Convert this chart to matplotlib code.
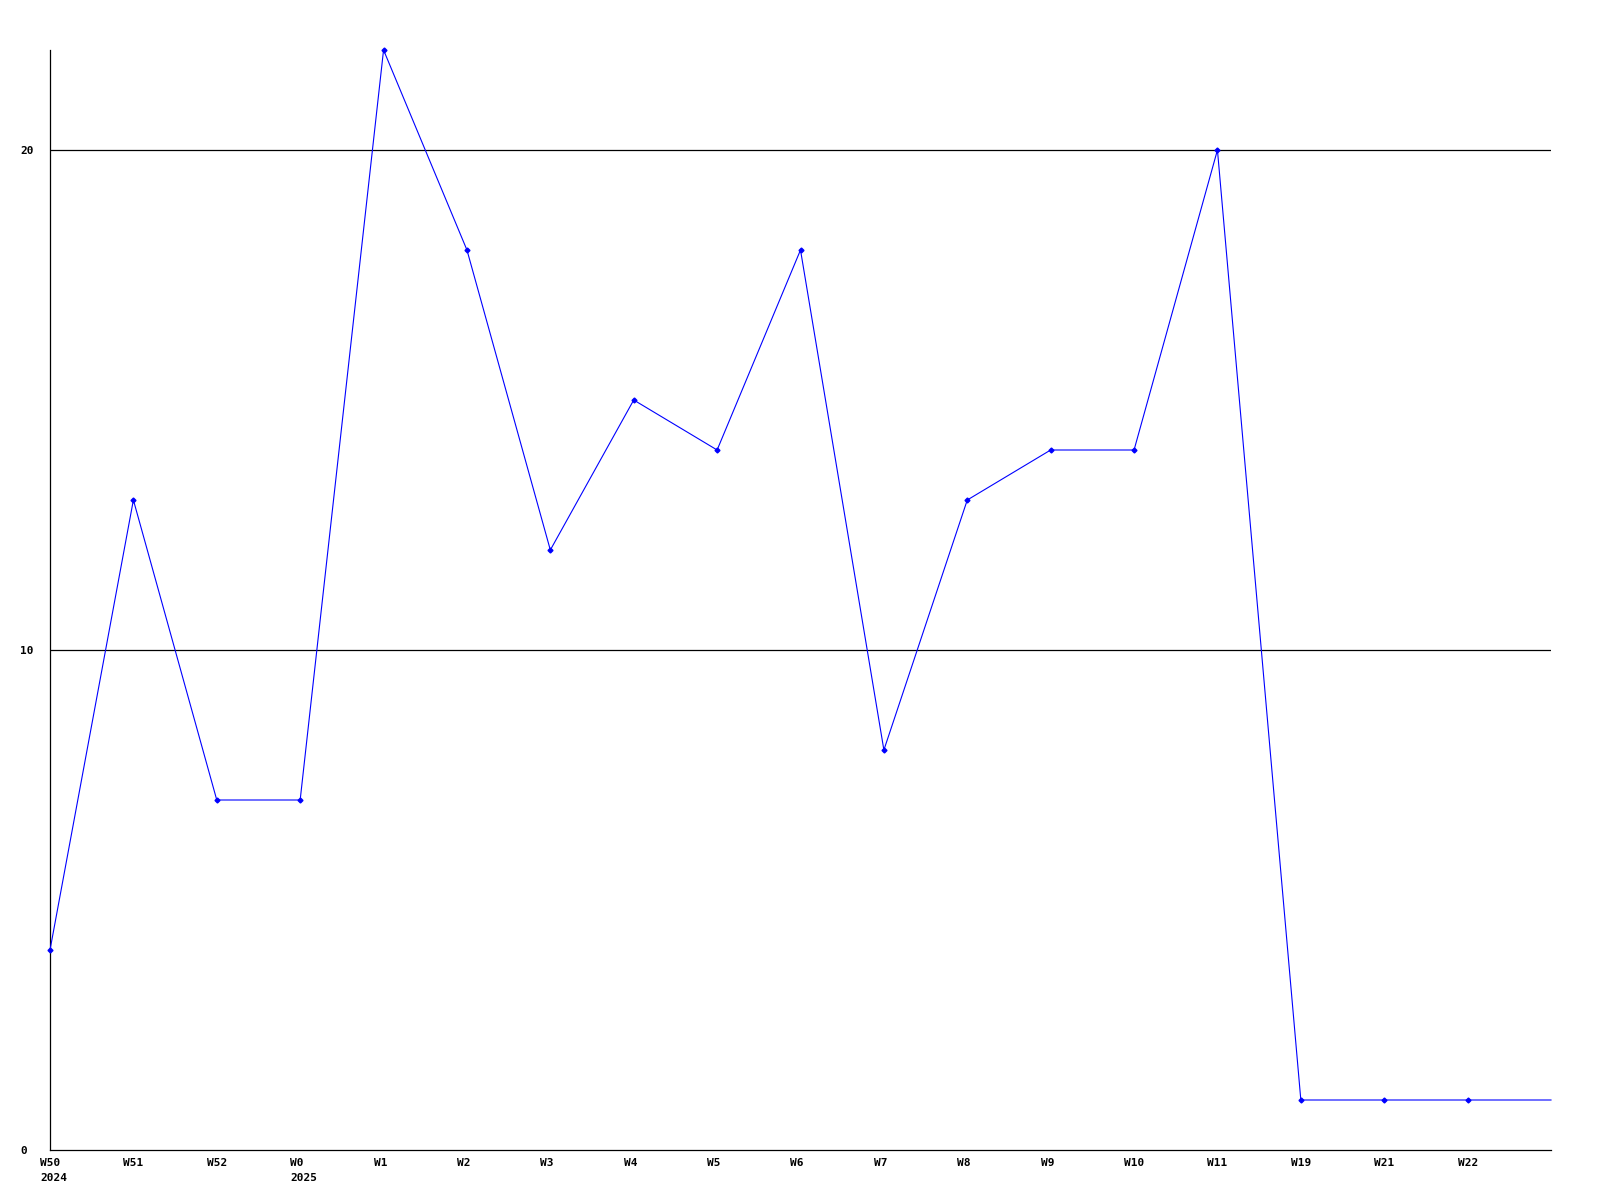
import numpy as np
from matplotlib import pyplot as plt
import matplotlib.transforms as mtrans

weekLabels = ['W50\n2024', 'W51', 'W52', 'W0\n2025', 'W1', 'W2', 'W3', 'W4', 'W5', 'W6',
              'W7', 'W8', 'W9', 'W10', 'W11', 'W19', 'W21', 'W22', '']
counts = [4, 13, 7, 7, 22, 18, 12, 15, 14, 18, 8, 13, 14, 14, 20, 1, 1, 1, 1]
yTicks = [0, 10, 20]


def plot_weekly(fileName):
    fig = plt.figure(figsize=(16, 12), dpi=100)
    ax = fig.add_axes([50 / 1600, 50 / 1200, 1501 / 1600, 1100 / 1200])

    x = np.arange(len(counts))
    ax.plot(x, counts, color='#0000ff', linewidth=0.8, marker='D', markersize=2.5,
            markevery=list(range(len(counts) - 1)), clip_on=False, zorder=3)

    for y in yTicks[1:]:
        ax.axhline(y, color='black', linewidth=0.9, zorder=1)

    ax.set_xlim(0, len(counts) - 1)
    ax.set_ylim(0, 22)
    ax.spines['top'].set_visible(False)
    ax.spines['right'].set_visible(False)
    ax.spines['left'].set_linewidth(0.9)
    ax.spines['bottom'].set_linewidth(0.9)

    ax.set_xticks(x)
    ax.set_xticklabels(weekLabels, family='DejaVu Sans Mono', fontweight='bold',
                       fontsize=8, ha='left', va='top', linespacing=1.6)
    ax.tick_params(axis='x', length=0, pad=6)
    # labels start a little left of the point
    offset = mtrans.ScaledTranslation(-10 / 100, 0, fig.dpi_scale_trans)
    for lab in ax.get_xticklabels():
        lab.set_transform(lab.get_transform() + offset)

    ax.set_yticks(yTicks)
    ax.set_yticklabels([str(v) for v in yTicks], family='DejaVu Sans Mono',
                       fontweight='bold', fontsize=8, ha='left')
    ax.tick_params(axis='y', length=0, pad=21.6)

    plt.savefig(fileName, dpi=100)
    plt.close()


if __name__ == "__main__":
    plot_weekly('out.png')
